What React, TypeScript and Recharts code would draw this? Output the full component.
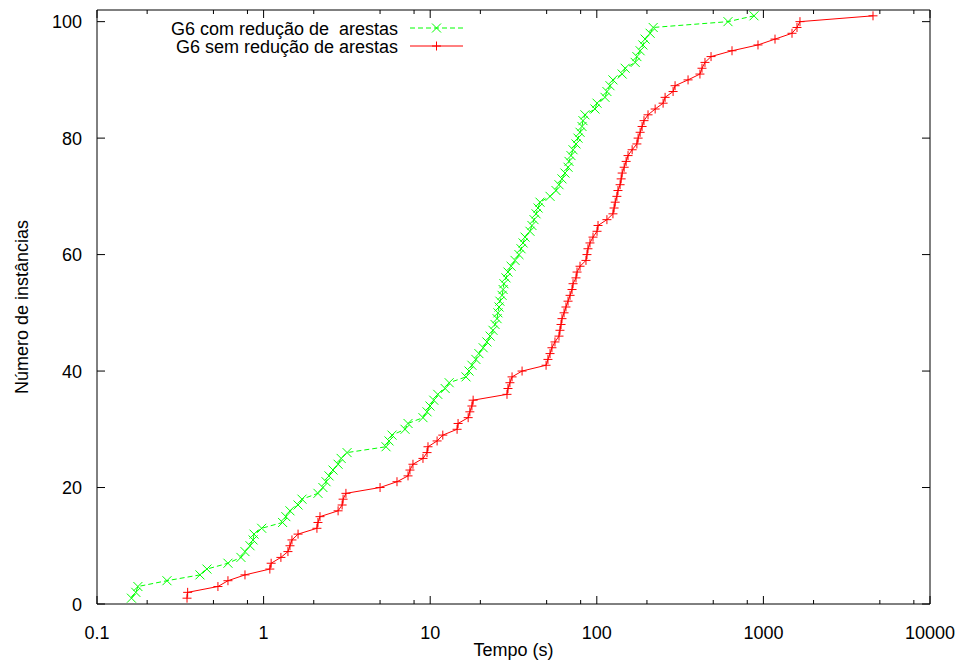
import React from 'react';
import { LineChart, Line, XAxis, YAxis, Legend, Label } from 'recharts';

// Number of solved instances (cumulative count, y axis)
const instanceCount = [
  1, 2, 3, 4, 5, 6, 7, 8, 9, 10, 11, 12, 13, 14, 15, 16, 17, 18, 19, 20,
  21, 22, 23, 24, 25, 26, 27, 28, 29, 30, 31, 32, 33, 34, 35, 36, 37, 38, 39, 40,
  41, 42, 43, 44, 45, 46, 47, 48, 49, 50, 51, 52, 53, 54, 55, 56, 57, 58, 59, 60,
  61, 62, 63, 64, 65, 66, 67, 68, 69, 70, 71, 72, 73, 74, 75, 76, 77, 78, 79, 80,
  81, 82, 83, 84, 85, 86, 87, 88, 89, 90, 91, 92, 93, 94, 95, 96, 97, 98, 99, 100, 101,
];

// Time (s) - G6 com redução de arestas
const timesWithReduction = [
  0.161, 0.171, 0.176, 0.263, 0.415, 0.457, 0.611, 0.731, 0.773, 0.829,
  0.864, 0.876, 0.974, 1.30, 1.36, 1.44, 1.61, 1.70, 2.12, 2.27,
  2.37, 2.47, 2.61, 2.80, 2.92, 3.17, 5.43, 5.66, 5.90, 7.06,
  7.36, 9.05, 9.57, 9.97, 10.5, 11.1, 12.3, 13.0, 16.4, 17.1,
  17.8, 18.8, 19.6, 20.8, 21.9, 22.9, 23.8, 24.5, 25.2, 25.5,
  25.9, 26.2, 27.0, 27.4, 27.7, 28.5, 29.3, 30.6, 32.3, 34.1,
  35.1, 36.1, 37.1, 39.7, 40.8, 42.0, 43.2, 44.4, 45.6, 52.4,
  56.9, 59.3, 61.8, 64.4, 67.2, 68.1, 70.0, 72.0, 75.0, 77.1,
  79.3, 81.5, 82.6, 84.9, 97.5, 100.3, 112, 115, 120, 125,
  142, 148, 170, 174, 182, 189, 195, 209, 218, 613, 878,
];

// Time (s) - G6 sem redução de arestas
const timesWithoutReduction = [
  0.347, 0.350, 0.532, 0.611, 0.773, 1.09, 1.11, 1.27, 1.40, 1.44,
  1.48, 1.61, 2.09, 2.12, 2.18, 2.80, 2.96, 3.00, 3.12, 5.00,
  6.32, 7.36, 7.56, 7.88, 9.05, 9.57, 9.70, 11.0, 11.9, 14.5,
  14.7, 16.9, 17.3, 17.8, 18.1, 28.9, 29.3, 30.1, 31.0, 35.6,
  49.6, 50.9, 52.4, 53.8, 56.1, 59.3, 60.1, 61.0, 61.8, 63.6,
  65.3, 67.2, 69.1, 71.0, 72.0, 75.0, 76.1, 79.3, 86.1, 87.3,
  88.5, 91.0, 94.9, 100.3, 101.7, 115, 125, 127, 129, 132,
  134, 138, 140, 142, 146, 150, 154, 163, 174, 177,
  182, 187, 192, 203, 224, 250, 257, 287, 295, 353,
  416, 428, 446, 485, 648, 928, 1174, 1485, 1591, 1658, 4549,
];

const xMajorTicks = [0.1, 1, 10, 100, 1000, 10000];
const xMinorTicks = [0.2, 0.5, 0.8, 2, 5, 8, 20, 50, 80, 200, 500, 800, 2000, 5000, 8000];
const xTickLabels = ['0.1', '1', '10', '100', '1000', '10000'];
const yTicks = [0, 20, 40, 60, 80, 100];
const seriesNames = ['G6 com redução de  arestas', 'G6 sem redução de arestas'];
const xTitle = 'Tempo (s)';
const yTitle = 'Número de instâncias';

const FONT = '"Liberation Sans", Arial, Helvetica, sans-serif';
const GREEN = '#00ff00';
const RED = '#ff0000';
const MAJOR = 8;
const MINOR = 4;

const greenData = timesWithReduction.map((t, i) => ({ t, n: instanceCount[i] }));
const redData = timesWithoutReduction.map((t, i) => ({ t, n: instanceCount[i] }));
const allXTicks = [...xMajorTicks, ...xMinorTicks].sort((a, b) => a - b);

const isMajor = (v: number) => xMajorTicks.indexOf(v) >= 0;
const labelFor = (v: number) => xTickLabels[xMajorTicks.indexOf(v)];

const BottomTick = (props: any) => {
  const { x, y, payload } = props;
  const v = payload.value;
  const major = isMajor(v);
  return (
    <g>
      <line x1={x} x2={x} y1={y} y2={y - (major ? MAJOR : MINOR)} stroke="#000" strokeWidth={1} />
      {major && (
        <text x={x} y={y + 35} textAnchor="middle" fontFamily={FONT} fontSize={18} fill="#000">
          {labelFor(v)}
        </text>
      )}
    </g>
  );
};

const TopTick = (props: any) => {
  const { x, y, payload } = props;
  const major = isMajor(payload.value);
  return <line x1={x} x2={x} y1={y} y2={y + (major ? MAJOR : MINOR)} stroke="#000" strokeWidth={1} />;
};

const LeftTick = (props: any) => {
  const { x, y, payload } = props;
  return (
    <g>
      <line x1={x} x2={x + MAJOR} y1={y} y2={y} stroke="#000" strokeWidth={1} />
      <text x={x - 15} y={y + 6.5} textAnchor="end" fontFamily={FONT} fontSize={18} fill="#000">
        {payload.value}
      </text>
    </g>
  );
};

const RightTick = (props: any) => {
  const { x, y } = props;
  return <line x1={x} x2={x - MAJOR} y1={y} y2={y} stroke="#000" strokeWidth={1} />;
};

const PlusDot = (props: any) => {
  const { cx, cy, index } = props;
  if (cx == null || cy == null) return <g key={`p${index}`} />;
  const s = 4.5;
  return (
    <path
      key={`p${index}`}
      d={`M${cx - s},${cy}H${cx + s}M${cx},${cy - s}V${cy + s}`}
      stroke={RED}
      strokeWidth={1}
      fill="none"
    />
  );
};

const CrossDot = (props: any) => {
  const { cx, cy, index } = props;
  if (cx == null || cy == null) return <g key={`x${index}`} />;
  const s = 4.5;
  return (
    <path
      key={`x${index}`}
      d={`M${cx - s},${cy - s}L${cx + s},${cy + s}M${cx - s},${cy + s}L${cx + s},${cy - s}`}
      stroke={GREEN}
      strokeWidth={1}
      fill="none"
    />
  );
};

const LegendContent = () => {
  const textX = 398;
  const x1 = 410;
  const x2 = 463;
  const mx = (x1 + x2) / 2;
  const rows = [28, 46];
  return (
    <svg width={959} height={60} style={{ display: 'block' }}>
      <text x={textX} y={rows[0] + 6.5} textAnchor="end" fontFamily={FONT} fontSize={18} fill="#000" style={{ whiteSpace: 'pre' }} xmlSpace="preserve">
        {seriesNames[0]}
      </text>
      <line x1={x1} x2={x2} y1={rows[0]} y2={rows[0]} stroke={GREEN} strokeWidth={1} strokeDasharray="5 3" />
      <path d={`M${mx - 4.5},${rows[0] - 4.5}L${mx + 4.5},${rows[0] + 4.5}M${mx - 4.5},${rows[0] + 4.5}L${mx + 4.5},${rows[0] - 4.5}`} stroke={GREEN} strokeWidth={1} />
      <text x={textX} y={rows[1] + 6.5} textAnchor="end" fontFamily={FONT} fontSize={18} fill="#000">
        {seriesNames[1]}
      </text>
      <line x1={x1} x2={x2} y1={rows[1]} y2={rows[1]} stroke={RED} strokeWidth={1} />
      <path d={`M${mx - 4.5},${rows[1]}H${mx + 4.5}M${mx},${rows[1] - 4.5}V${rows[1] + 4.5}`} stroke={RED} strokeWidth={1} />
    </svg>
  );
};

const XTitle = (props: any) => {
  const vb = props.viewBox || { x: 97, y: 604, width: 833, height: 59 };
  return (
    <text x={vb.x + vb.width / 2} y={vb.y + 52} textAnchor="middle" fontFamily={FONT} fontSize={18} fill="#000">
      {xTitle}
    </text>
  );
};

const YTitle = (props: any) => {
  const vb = props.viewBox || { x: 0, y: 10, width: 97, height: 594 };
  const cx = vb.x + 28;
  const cy = vb.y + vb.height / 2;
  return (
    <text x={cx} y={cy} transform={`rotate(-90 ${cx} ${cy})`} textAnchor="middle" fontFamily={FONT} fontSize={18} fill="#000">
      {yTitle}
    </text>
  );
};

export default function App() {
  return (
    <div style={{ position: 'absolute', left: 0, top: 0, width: 959, height: 663, background: '#fff', fontFamily: FONT }}>
      <LineChart width={959} height={663} margin={{ top: 0, right: 0, bottom: 0, left: 0 }}>
        <XAxis
          xAxisId="b"
          orientation="bottom"
          dataKey="t"
          type="number"
          scale="log"
          domain={[0.1, 10000]}
          allowDataOverflow
          ticks={allXTicks}
          interval={0}
          tickSize={0}
          tickMargin={0}
          tickLine={false}
          tick={BottomTick}
          axisLine={{ stroke: '#000', strokeWidth: 1 }}
          height={59}
        >
          <Label content={XTitle} />
        </XAxis>
        <XAxis
          xAxisId="t"
          orientation="top"
          dataKey="t"
          type="number"
          scale="log"
          domain={[0.1, 10000]}
          allowDataOverflow
          ticks={allXTicks}
          interval={0}
          tickSize={0}
          tickMargin={0}
          tickLine={false}
          tick={TopTick}
          axisLine={{ stroke: '#000', strokeWidth: 1 }}
          height={10}
        />
        <YAxis
          yAxisId="l"
          orientation="left"
          type="number"
          domain={[0, 102]}
          allowDataOverflow
          ticks={yTicks}
          interval={0}
          tickSize={0}
          tickMargin={0}
          tickLine={false}
          tick={LeftTick}
          axisLine={{ stroke: '#000', strokeWidth: 1 }}
          width={97}
        >
          <Label content={YTitle} />
        </YAxis>
        <YAxis
          yAxisId="r"
          orientation="right"
          type="number"
          domain={[0, 102]}
          allowDataOverflow
          ticks={yTicks}
          interval={0}
          tickSize={0}
          tickMargin={0}
          tickLine={false}
          tick={RightTick}
          axisLine={{ stroke: '#000', strokeWidth: 1 }}
          width={29}
        />
        <Line
          xAxisId="b"
          yAxisId="l"
          data={greenData}
          dataKey="n"
          name={seriesNames[0]}
          type="linear"
          stroke={GREEN}
          strokeWidth={1}
          strokeDasharray="5 3"
          dot={CrossDot}
          activeDot={false}
          isAnimationActive={false}
        />
        <Line
          xAxisId="b"
          yAxisId="l"
          data={redData}
          dataKey="n"
          name={seriesNames[1]}
          type="linear"
          stroke={RED}
          strokeWidth={1}
          dot={PlusDot}
          activeDot={false}
          isAnimationActive={false}
        />
        <Legend
          layout="horizontal"
          verticalAlign="middle"
          align="center"
          wrapperStyle={{ position: 'absolute', left: 0, top: 0, width: 959, height: 60, margin: 0, pointerEvents: 'none' }}
          content={LegendContent}
        />
      </LineChart>
    </div>
  );
}
